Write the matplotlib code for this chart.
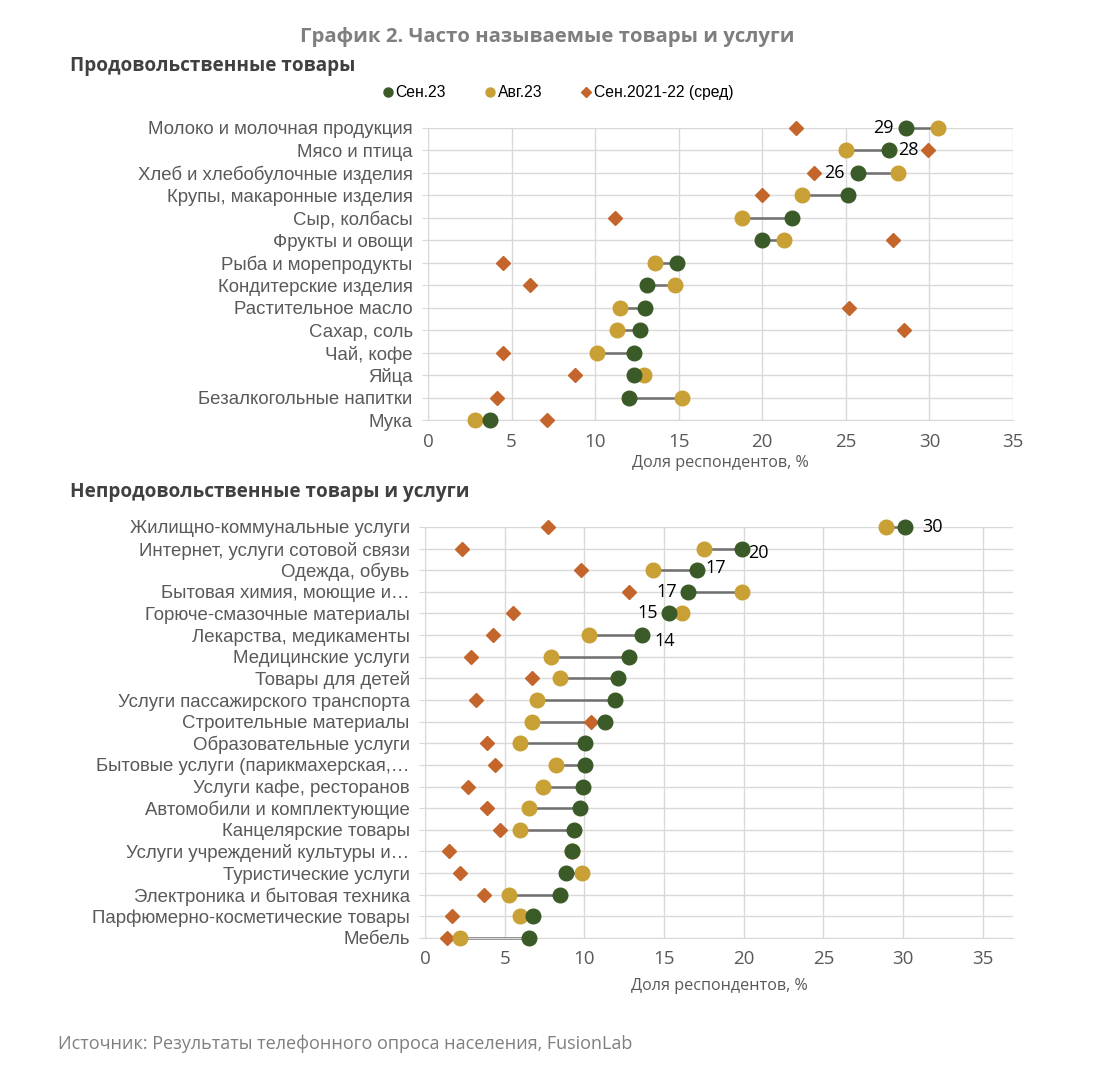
import matplotlib
matplotlib.use("Agg")
import matplotlib.pyplot as plt
from matplotlib.lines import Line2D

# --- food ---
food_cats = ["Молоко и молочная продукция", "Мясо и птица", "Хлеб и хлебобулочные изделия",
             "Крупы, макаронные изделия", "Сыр, колбасы", "Фрукты и овощи",
             "Рыба и морепродукты", "Кондитерские изделия", "Растительное масло",
             "Сахар, соль", "Чай, кофе", "Яйца", "Безалкогольные напитки", "Мука"]
food_sep23 = [28.6, 27.6, 25.7, 25.1, 21.8, 20.0, 14.9, 13.1, 13.0, 12.7, 12.3, 12.3, 12.0, 3.7]
food_aug23 = [30.5, 25.0, 28.1, 22.4, 18.8, 21.3, 13.6, 14.8, 11.5, 11.3, 10.1, 12.9, 15.2, 2.8]
food_avg = [22.0, 29.9, 23.1, 20.0, 11.2, 27.8, 4.5, 6.1, 25.2, 28.5, 4.5, 8.8, 4.1, 7.1]
# label text and offset (points) from the Sep.23 marker
food_labels = {0: ("29", -9, 0), 1: ("28", 6, 0), 2: ("26", -9, 0)}

# --- non-food ---
non_cats = ["Жилищно-коммунальные услуги", "Интернет, услуги сотовой связи", "Одежда, обувь",
            "Бытовая химия, моющие и…", "Горюче-смазочные материалы", "Лекарства, медикаменты",
            "Медицинские услуги", "Товары для детей", "Услуги пассажирского транспорта",
            "Строительные материалы", "Образовательные услуги", "Бытовые услуги (парикмахерская,…",
            "Услуги кафе, ресторанов", "Автомобили и комплектующие", "Канцелярские товары",
            "Услуги учреждений культуры и…", "Туристические услуги", "Электроника и бытовая техника",
            "Парфюмерно-косметические товары", "Мебель"]
non_sep23 = [30.1, 19.9, 17.1, 16.5, 15.3, 13.6, 12.8, 12.1, 11.9, 11.3,
             10.05, 10.05, 9.9, 9.75, 9.35, 9.2, 8.85, 8.45, 6.75, 6.55]
non_aug23 = [28.9, 17.5, 14.3, 19.9, 16.1, 10.3, 7.9, 8.5, 7.0, 6.7,
             5.95, 8.2, 7.4, 6.55, 5.95, 9.25, 9.85, 5.25, 5.95, 2.2]
non_avg = [7.75, 2.35, 9.8, 12.8, 5.5, 4.3, 2.9, 6.7, 3.2, 10.4,
           3.9, 4.4, 2.7, 3.9, 4.7, 1.5, 2.2, 3.7, 1.7, 1.4]
non_labels = {0: ("30", 13, 0), 1: ("20", 4, -3.5), 2: ("17", 5.5, 1.5),
              3: ("17", -8, 0), 4: ("15", -8, 0), 5: ("14", 9, -4.5)}

GREEN = "#3a5a27"
GOLD = "#c9a035"
ORANGE = "#c4652c"
LINE = "#6f6f6f"
GRID = "#d9d9d9"
TXT = "#595959"
CAL = ["Open Sans", "DejaVu Sans"]
ARI = ["Liberation Sans", "DejaVu Sans"]

fig = plt.figure(figsize=(10.93, 10.8), dpi=100)


def dot_plot(ax, cats, sep, aug, avg, labels, xmax, lpad):
    n = len(cats)
    y = list(range(n))
    for i in y:
        ax.plot([sep[i], aug[i]], [i, i], color=LINE, lw=1.8, zorder=2, clip_on=False)
    ax.plot(avg, y, "D", color=ORANGE, ms=7, ls="none", zorder=3, clip_on=False)
    ax.plot(aug, y, "o", color=GOLD, ms=10.5, ls="none", zorder=4, clip_on=False)
    ax.plot(sep, y, "o", color=GREEN, ms=10.5, ls="none", zorder=5, clip_on=False)
    for i, (txt, dx, dy) in labels.items():
        ax.annotate(txt, (sep[i], i), xytext=(dx, dy), textcoords="offset points",
                    ha="right" if dx < 0 else "left", va="center",
                    fontsize=13, family=CAL, color="black")
    ax.set_ylim(n - 1, 0)
    ax.set_xlim(0, xmax)
    ax.set_yticks(y)
    ax.set_yticklabels(cats, family=ARI, fontsize=13.4, color=TXT)
    ax.set_xticks(range(0, 36, 5))
    ax.set_xticklabels([str(v) for v in range(0, 36, 5)], family=CAL, fontsize=13.5, color=TXT)
    ax.grid(True, color=GRID, lw=1)
    ax.set_axisbelow(True)
    for s in ["top", "right"]:
        ax.spines[s].set_visible(False)
    ax.spines["left"].set_color(GRID)
    ax.spines["bottom"].set_color(GRID)
    ax.tick_params(axis="y", length=4, color=GRID, pad=7)
    ax.tick_params(axis="x", length=0, pad=9)
    ax.set_xlabel("Доля респондентов, %", family=CAL, fontsize=11.6, color=TXT, labelpad=lpad)


ax1 = fig.add_axes([0.3916, 0.6111, 0.5352, 0.2704])
dot_plot(ax1, food_cats, food_sep23, food_aug23, food_avg, food_labels, 35, 3)

ax2 = fig.add_axes([0.3888, 0.1315, 0.538, 0.3806])
dot_plot(ax2, non_cats, non_sep23, non_aug23, non_avg, non_labels, 36.9, 7)

fig.text(0.501, 0.966, "График 2. Часто называемые товары и услуги", ha="center", va="center",
         fontsize=14.7, fontweight="bold", family=CAL, color="#7f7f7f")
fig.text(0.064, 0.939, "Продовольственные товары", ha="left", va="center",
         fontsize=13.7, fontweight="bold", family=CAL, color="#404040")
fig.text(0.064, 0.544, "Непродовольственные товары и услуги", ha="left", va="center",
         fontsize=13.7, fontweight="bold", family=CAL, color="#404040")
fig.text(0.053, 0.034, "Источник: Результаты телефонного опроса населения, FusionLab",
         ha="left", va="center", fontsize=13, family=CAL, color="#7f7f7f")

handles = [Line2D([], [], marker="o", color=GREEN, ls="none", ms=6.5),
           Line2D([], [], marker="o", color=GOLD, ls="none", ms=6.5),
           Line2D([], [], marker="D", color=ORANGE, ls="none", ms=5)]
fig.legend(handles, ["Сен.23", "Авг.23", "Сен.2021-22 (сред)"], loc="center",
           bbox_to_anchor=(0.51, 0.914), ncol=3, frameon=False,
           prop={"family": ARI, "size": 11.3}, handletextpad=0.1, columnspacing=2.4,
           handlelength=0.8)

fig.savefig("out.png", dpi=100)
